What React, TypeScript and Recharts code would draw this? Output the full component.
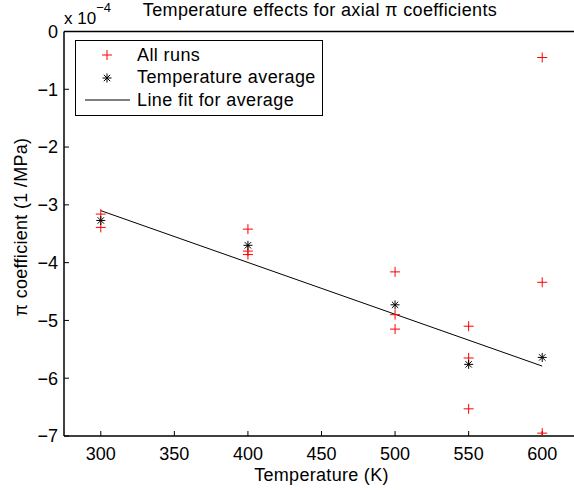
import React from 'react';
import { ComposedChart, Scatter, Line, XAxis, YAxis, Legend, Customized } from 'recharts';

// values are in units of 1e-4 (1/MPa)
const runTemps = [300, 300, 400, 400, 400, 500, 500, 500, 550, 550, 550, 600, 600, 600];
const runValues = [-3.16, -3.39, -3.42, -3.8, -3.86, -4.16, -4.9, -5.15, -5.1, -5.65, -6.53, -0.45, -4.34, -6.95];
const avgTemps = [300, 400, 500, 550, 600];
const avgValues = [-3.27, -3.7, -4.73, -5.76, -5.64];
const fitTemps = [300, 600];
const fitValues = [-3.1, -5.79];
const xTicks = [300, 350, 400, 450, 500, 550, 600];
const yTicks = [0, -1, -2, -3, -4, -5, -6, -7];

const runs = runTemps.map((t, i) => ({ t, v: runValues[i] }));
const avgs = avgTemps.map((t, i) => ({ t, v: avgValues[i] }));
const fit = fitTemps.map((t, i) => ({ t, v: fitValues[i] }));

const FONT = 'Arial, "Liberation Sans", Helvetica, sans-serif';

const PlusMark = (props: any) => {
  const { cx, cy } = props;
  return (
    <path
      d={`M${cx - 5},${cy}H${cx + 5}M${cx},${cy - 5}V${cy + 5}`}
      stroke="#ff0000"
      strokeWidth={1}
      fill="none"
    />
  );
};

const StarMark = (props: any) => {
  const { cx, cy } = props;
  const r = 4.5;
  const d = 3.2;
  return (
    <path
      d={`M${cx - r},${cy}H${cx + r}M${cx},${cy - r}V${cy + r}M${cx - d},${cy - d}L${cx + d},${cy + d}M${cx - d},${cy + d}L${cx + d},${cy - d}`}
      stroke="#000"
      strokeWidth={1}
      fill="none"
    />
  );
};

const legendRows = [
  { label: 'All runs', kind: 'plus' },
  { label: 'Temperature average', kind: 'star' },
  { label: 'Line fit for average', kind: 'line' },
];

const LegendBox = () => (
  <div
    style={{
      border: '1.5px solid #000',
      background: '#fff',
      width: 246,
      height: 71,
      boxSizing: 'content-box',
      fontFamily: FONT,
      fontSize: 18,
      letterSpacing: 0.4,
      color: '#000',
      paddingTop: 3,
    }}
  >
    {legendRows.map((r) => (
      <div key={r.label} style={{ display: 'flex', alignItems: 'center', height: 22.5 }}>
        <svg width={61} height={20} style={{ display: 'block' }}>
          {r.kind === 'plus' && <PlusMark cx={31} cy={10} />}
          {r.kind === 'star' && <StarMark cx={31} cy={10} />}
          {r.kind === 'line' && <line x1={9} x2={54} y1={10} y2={10} stroke="#000" />}
        </svg>
        <span>{r.label}</span>
      </div>
    ))}
  </div>
);

const Texts = () => (
  <g fontFamily={FONT} fill="#000">
    <text x={320} y={16} fontSize={18} letterSpacing={0.35} textAnchor="middle">
      Temperature effects for axial π coefficients
    </text>
    <text x={64} y={24} fontSize={17}>
      x 10
      <tspan fontSize={13} dy={-12}>
        −4
      </tspan>
    </text>
    <text x={321.5} y={481} fontSize={18} letterSpacing={0.3} textAnchor="middle">
      Temperature (K)
    </text>
    <text x={0} y={0} fontSize={18} letterSpacing={0.3} textAnchor="middle" transform="translate(27,227) rotate(-90)">
      π coefficient (1 /MPa)
    </text>
  </g>
);

const fmtY = (v: number) => (v === 0 ? '0' : '\u2212' + Math.abs(v));

const axisStroke = { stroke: '#000', strokeWidth: 1.5 };

export default function App() {
  return (
    <div style={{ position: 'absolute', left: 0, top: 0, width: 574, height: 490, overflow: 'hidden', background: '#fff' }}>
      <ComposedChart width={584} height={490} margin={{ top: 30.5, right: 4, bottom: 0, left: 0 }}>
        <XAxis
          xAxisId="b"
          dataKey="t"
          type="number"
          domain={[275, 625]}
          ticks={xTicks}
          height={54}
          tickSize={-5}
          tickMargin={16}
          axisLine={axisStroke}
          tickLine={{ stroke: '#000' }}
          tick={{ fill: '#000', fontSize: 18, fontFamily: FONT }}
          allowDataOverflow
        />
        <XAxis
          xAxisId="top"
          orientation="top"
          type="number"
          domain={[275, 625]}
          ticks={xTicks}
          height={1}
          tickSize={-5}
          tick={false}
          axisLine={axisStroke}
          tickLine={{ stroke: '#000' }}
          allowDataOverflow
        />
        <YAxis
          yAxisId="l"
          dataKey="v"
          type="number"
          domain={[-7, 0]}
          ticks={yTicks}
          width={64}
          tickSize={-5}
          tickMargin={11}
          tickFormatter={fmtY}
          axisLine={axisStroke}
          tickLine={{ stroke: '#000' }}
          tick={{ fill: '#000', fontSize: 18, fontFamily: FONT }}
          allowDataOverflow
        />
        <YAxis
          yAxisId="r"
          orientation="right"
          type="number"
          domain={[-7, 0]}
          ticks={yTicks}
          width={1}
          tickSize={-5}
          tick={false}
          axisLine={axisStroke}
          tickLine={{ stroke: '#000' }}
          allowDataOverflow
        />
        <Scatter xAxisId="b" yAxisId="l" data={runs} shape={<PlusMark />} isAnimationActive={false} />
        <Scatter xAxisId="b" yAxisId="l" data={avgs} shape={<StarMark />} isAnimationActive={false} />
        <Line
          xAxisId="b"
          yAxisId="l"
          data={fit}
          dataKey="v"
          stroke="#000"
          strokeWidth={1}
          dot={false}
          activeDot={false}
          isAnimationActive={false}
        />
        <Legend
          layout="horizontal"
          verticalAlign="middle"
          align="center"
          content={() => <LegendBox />}
          wrapperStyle={{ left: 75, top: 40, width: 249, height: 74 }}
        />
        <Customized component={Texts} />
      </ComposedChart>
    </div>
  );
}
